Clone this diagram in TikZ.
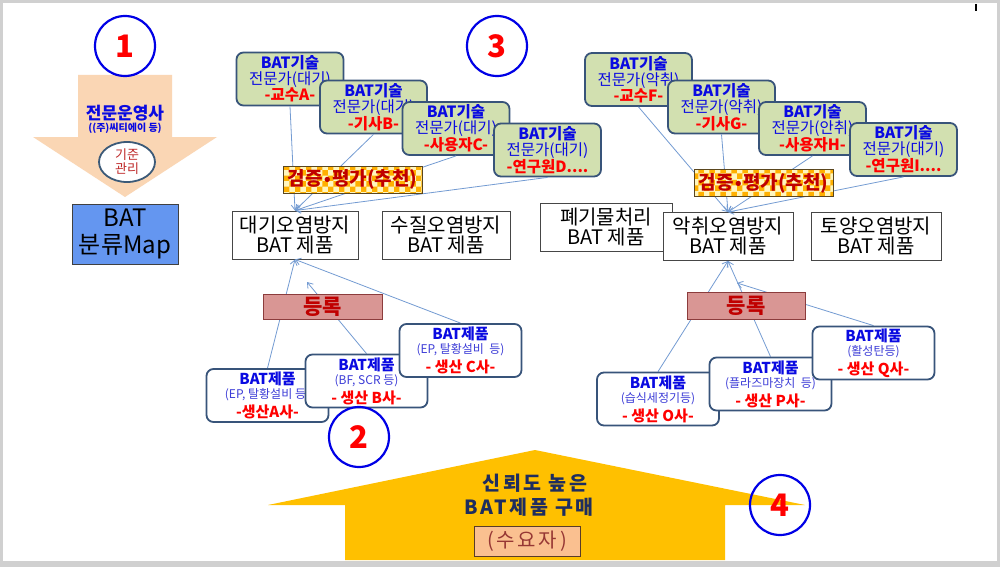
\documentclass[tikz,border=0pt]{standalone}
\usepackage{fontspec}
\setmainfont{Noto Sans CJK KR}
\newfontfamily\spaced{Noto Sans CJK KR}[LetterSpace=14]
\newfontfamily\dotfont{DejaVu Sans}
\usetikzlibrary{arrows.meta,patterns,shapes.geometric,calc}
\definecolor{framegray}{RGB}{208,208,208}
\definecolor{peach}{RGB}{250,214,180}
\definecolor{tblue}{RGB}{10,10,225}
\definecolor{pblue}{RGB}{60,60,215}
\definecolor{ovalborder}{RGB}{60,90,120}
\definecolor{darkred2}{RGB}{190,40,40}
\definecolor{mapblue}{RGB}{100,150,240}
\definecolor{mapborder}{RGB}{64,64,64}
\definecolor{cblue}{RGB}{0,0,230}
\definecolor{numred}{RGB}{255,0,0}
\definecolor{exfill}{RGB}{210,224,176}
\definecolor{exborder}{RGB}{56,84,122}
\definecolor{tred}{RGB}{255,0,0}
\definecolor{lineblue}{RGB}{115,155,210}
\definecolor{vyellow}{RGB}{255,246,190}
\definecolor{vorange}{RGB}{255,176,0}
\definecolor{vborder}{RGB}{90,70,30}
\definecolor{vred}{RGB}{192,0,0}
\definecolor{regfill}{RGB}{217,150,148}
\definecolor{regborder}{RGB}{140,60,60}
\definecolor{midborder}{RGB}{70,70,70}
\definecolor{gold}{RGB}{255,192,0}
\definecolor{navy}{RGB}{30,45,95}
\definecolor{buyfill}{RGB}{250,192,144}
\definecolor{buyborder}{RGB}{90,60,40}
\definecolor{brownred}{RGB}{150,55,52}
\newcommand{\exptext}[3]{\textcolor{tblue}{\bfseries #1}\\\textcolor{tblue}{#2}\\\textcolor{tred}{\bfseries #3}}
\newcommand{\prodtext}[2]{\textcolor{tblue}{\bfseries BAT제품}\\[-2pt]{\fontsize{12}{13}\selectfont\textcolor{pblue}{#1}}\\[3pt]\textcolor{tred}{\bfseries #2}}
\newcommand{\vtext}{검증{\dotfont\bfseries\fontsize{15}{15}\selectfont •}평가(추천)}
\begin{document}
\begin{tikzpicture}[x=1pt,y=-1pt,
  numcircle/.style={circle, draw=cblue, line width=2.2pt, minimum size=60pt, inner sep=0pt,
    font=\fontsize{31}{31}\selectfont\bfseries, text=numred},
  expert/.style={draw=exborder, line width=1.8pt, fill=exfill, rounded corners=7pt,
    minimum width=107pt, minimum height=53pt, inner sep=0pt, align=center,
    font=\fontsize{15.5}{16}\selectfont},
  verify/.style={draw=vborder, line width=1pt, preaction={fill=vyellow}, pattern=checkerboard,
    pattern color=vorange, minimum width=139pt, minimum height=27pt, inner sep=0pt,
    font=\fontsize{19}{19}\selectfont\bfseries, text=vred},
  midbox/.style={draw=midborder, line width=0.9pt, fill=white, minimum height=48pt,
    inner sep=0pt, align=center, font=\fontsize{20}{20}\selectfont},
  reg/.style={draw=regborder, line width=1pt, fill=regfill, minimum width=119pt,
    minimum height=25pt, inner sep=0pt, font=\fontsize{21}{21}\selectfont\bfseries, text=vred},
  prod/.style={draw=exborder, line width=1.8pt, fill=white, rounded corners=7pt,
    minimum width=122pt, minimum height=53pt, inner sep=0pt, align=center,
    font=\fontsize{15}{16}\selectfont},
  conn/.style={draw=lineblue, line width=0.8pt, -{Straight Barb[length=5pt,width=7pt]}}
]
\useasboundingbox (0,0) rectangle (1000,567);
\fill[framegray] (0,0) rectangle (1000,567);
\fill[white] (3,3) rectangle (997,561);
\draw[black, line width=1.2pt] (976,4) -- (976,11);

% ---- part 1 ----
\fill[peach] (78,75) -- (172,75) -- (172,137) -- (217,137) -- (125,197) -- (33,137) -- (78,137) -- cycle;
\node[font=\fontsize{17}{17}\selectfont\bfseries, text=tblue] (oper) at (125,113) {전문운영사};
\node[font=\fontsize{10}{10}\selectfont\bfseries, text=tblue] (opersub) at (125,128) {((주)씨티에이 등)};
\node[ellipse, draw=ovalborder, line width=1.8pt, fill=white, minimum width=56pt, minimum height=40pt,
  inner sep=0pt, align=center, font=\fontsize{13}{14}\selectfont, text=darkred2] (crit) at (127,162) {기준\\관리};
\node[draw=mapborder, line width=0.8pt, fill=mapblue, minimum width=106pt, minimum height=60pt,
  inner sep=0pt, align=center, font=\fontsize{24}{27}\selectfont] (map) at (125,234) {BAT\\분류Map};
\node[numcircle] (c1) at (125,46) {1};
\node[numcircle] (c3) at (497,46) {3};

% ---- middle row ----
\node[midbox, minimum width=132pt] (waste) at (606,227) {폐기물처리\\BAT 제품};
\node[midbox, minimum width=126pt] (air) at (295,235) {대기오염방지\\BAT 제품};
\node[midbox, minimum width=128pt] (water) at (446,235) {수질오염방지\\BAT 제품};
\node[midbox, minimum width=130pt] (odor) at (728,236.5) {악취오염방지\\BAT 제품};
\node[midbox, minimum width=130pt] (soil) at (876,236.5) {토양오염방지\\BAT 제품};

% ---- experts (left) ----
\node[expert] (ea) at (290,79) {\exptext{BAT기술}{전문가(대기)}{-교수A-}};
\node[expert] (eb) at (373.5,107) {\exptext{BAT기술}{전문가(대기)}{-기사B-}};
\node[expert] (ec) at (456,128.5) {\exptext{BAT기술}{전문가(대기)}{-사용자C-}};
\node[expert] (ed) at (547.5,150) {\exptext{BAT기술}{전문가(대기)}{-연구원D....}};
% ---- experts (right) ----
\node[expert] (ef) at (638.5,79.5) {\exptext{BAT기술}{전문가(악취)}{-교수F-}};
\node[expert] (eg) at (721.5,107) {\exptext{BAT기술}{전문가(악취)}{-기사G-}};
\node[expert] (eh) at (812.5,128.5) {\exptext{BAT기술}{전문가(안취)}{-사용자H-}};
\node[expert] (ei) at (903.5,149.5) {\exptext{BAT기술}{전문가(대기)}{-연구원I....}};

\draw[conn] (ea.south) -- (air.north);
\draw[conn] (eb.south) -- (air.north);
\draw[conn] (ec.south) -- (air.north);
\draw[conn] (ed.south) -- (air.north);
\draw[conn] (ef.south) -- (odor.north);
\draw[conn] (eg.south) -- (odor.north);
\draw[conn] (eh.south) -- (odor.north);
\draw[conn] (ei.south) -- (odor.north);

\node[verify] (vl) at (352.5,179.5) {\vtext};
\node[verify] (vr) at (763.5,183) {\vtext};

% ---- registration ----
\coordinate (bend) at (307,282);
\coordinate (qend) at (737,283);
\node[prod, draw=none, fill=none] (pa) at (267.5,395.5) {};
\node[prod, draw=none, fill=none] (pb) at (366.5,381) {};
\node[prod, draw=none, fill=none] (pc) at (460.5,350.5) {};
\node[prod, draw=none, fill=none] (po) at (658,399) {};
\node[prod, draw=none, fill=none] (pp) at (770.5,384) {};
\node[prod, draw=none, fill=none] (pq) at (873.5,353) {};
\draw[conn] (pa.north) -- (air.south);
\draw[conn] (pb.north) -- (bend);
\draw[conn] (pc.north) -- (air.south);
\draw[conn] (po.north) -- (odor.south);
\draw[conn] (pp.north) -- (odor.south);
\draw[conn] (pq.north) -- (qend);

\node[reg] (rl) at (322.5,307) {등록};
\node[reg, minimum height=27pt, minimum width=118pt] (rr) at (746,306) {등록};

\node[prod] (pa2) at (pa) {\prodtext{(EP, 탈황설비 등)}{-생산A사-}};
\node[prod] (pb2) at (pb) {\prodtext{(BF, SCR 등)}{- 생산 B사-}};
\node[prod] (pc2) at (pc) {\prodtext{(EP, 탈황설비\ \ 등)}{- 생산 C사-}};
\node[prod] (po2) at (po) {\prodtext{(습식세정기등)}{- 생산 O사-}};
\node[prod] (pp2) at (pp) {\prodtext{(플라즈마장치\ \ 등)}{- 생산 P사-}};
\node[prod] (pq2) at (pq) {\prodtext{(활성탄등)}{- 생산 Q사-}};

\node[numcircle] (c2) at (359,437) {2};

% ---- part 4: purchase arrow ----
\fill[gold] (345,560) -- (345,505) -- (268,505) -- (535,450) -- (805,505) -- (725,505) -- (725,560) -- cycle;
\node[font=\spaced\fontsize{19.5}{19.5}\selectfont\bfseries, text=navy] (buy1) at (535,483) {신뢰도 높은};
\node[font=\spaced\fontsize{19.5}{19.5}\selectfont\bfseries, text=navy] (buy2) at (529,507) {BAT제품 구매};
\node[draw=buyborder, line width=1pt, fill=buyfill, minimum width=106pt, minimum height=30pt, inner sep=0pt,
  font=\spaced\fontsize{20}{20}\selectfont, text=brownred] (buyer) at (527,541) {(수요자)};
\node[numcircle] (c4) at (780,505) {4};
\end{tikzpicture}
\end{document}
